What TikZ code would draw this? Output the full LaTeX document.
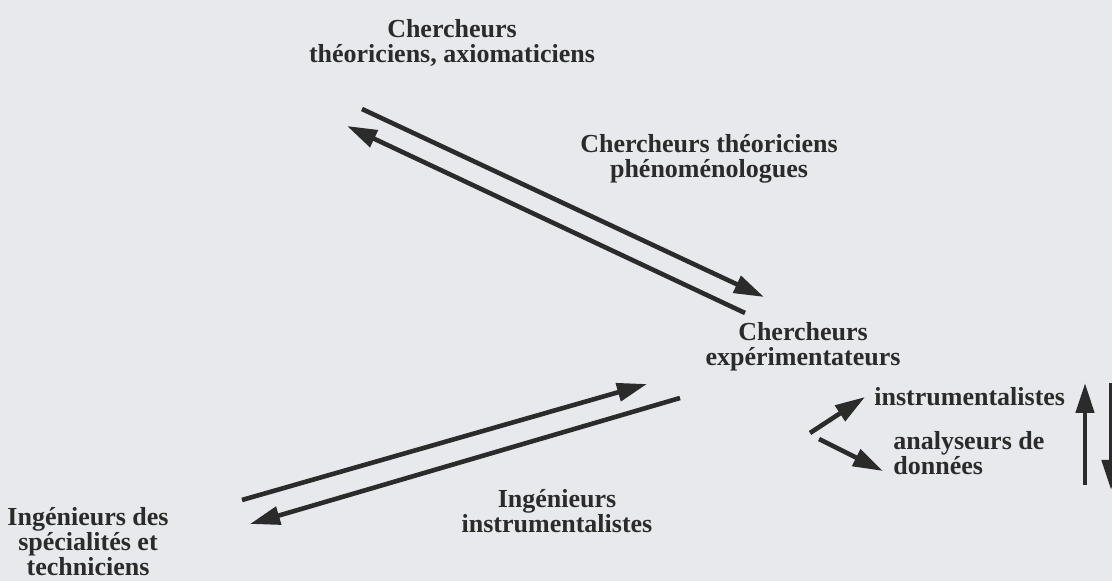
\documentclass[tikz,border=0pt]{standalone}
\usepackage{fontspec}
\setmainfont{Liberation Serif}
\usetikzlibrary{arrows.meta, positioning}
\definecolor{papier}{HTML}{E7E9EC}
\definecolor{encre}{HTML}{2B2B2B}

\begin{document}
\begin{tikzpicture}[x=0.5pt, y=-0.5pt,
    grp/.style={align=center, text=encre, inner sep=0pt,
      font=\bfseries\fontsize{13}{12.5}\selectfont},
    fleche/.style={draw=encre, line width=2.3pt,
      -{Triangle[length=15pt, width=9pt]}}]
   % fond
   \useasboundingbox (0,0) rectangle (1112,581);
   \fill[papier] (0,0) rectangle (1112,581);
   \clip (0,0) rectangle (1112,581);

   % groupes
   \node[grp] (axio)  at (452,43)  {Chercheurs\\théoriciens, axiomaticiens};
   \node[grp] (pheno) at (709,159) {Chercheurs théoriciens\\phénoménologues};
   \node[grp] (exper) at (803,347) {Chercheurs\\expérimentateurs};
   \node[grp, anchor=west] (instr) at (874,397) {instrumentalistes};
   \node[grp, align=left, anchor=west] (analy) at (893,453) {analyseurs de\\données};
   \node[grp] (ingin) at (557,511) {Ingénieurs\\instrumentalistes};
   \node[grp] (ingsp) at (88,542)  {Ingénieurs des\\spécialités et\\techniciens};

   % extrémités des flèches
   \coordinate (a1) at (362,109);  \coordinate (a2) at (764,297);
   \coordinate (b1) at (745,313);  \coordinate (b2) at (347,126);
   \coordinate (c1) at (242,500);  \coordinate (c2) at (647,384);
   \coordinate (d1) at (680,398);  \coordinate (d2) at (250,524);
   \coordinate (e1) at (810,433);  \coordinate (e2) at (865,397);
   \coordinate (f1) at (819,439);  \coordinate (f2) at (883,471);
   \coordinate (g1) at (1085,485); \coordinate (g2) at (1085,383);
   \coordinate (h1) at (1111,383); \coordinate (h2) at (1111,490);

   % flèches
   \draw[fleche] (a1) -- (a2);
   \draw[fleche] (b1) -- (b2);
   \draw[fleche] (c1) -- (c2);
   \draw[fleche] (d1) -- (d2);
   \draw[fleche] (e1) -- (e2);
   \draw[fleche] (f1) -- (f2);
   \draw[fleche] (g1) -- (g2);
   \draw[fleche] (h1) -- (h2);
\end{tikzpicture}
\end{document}
